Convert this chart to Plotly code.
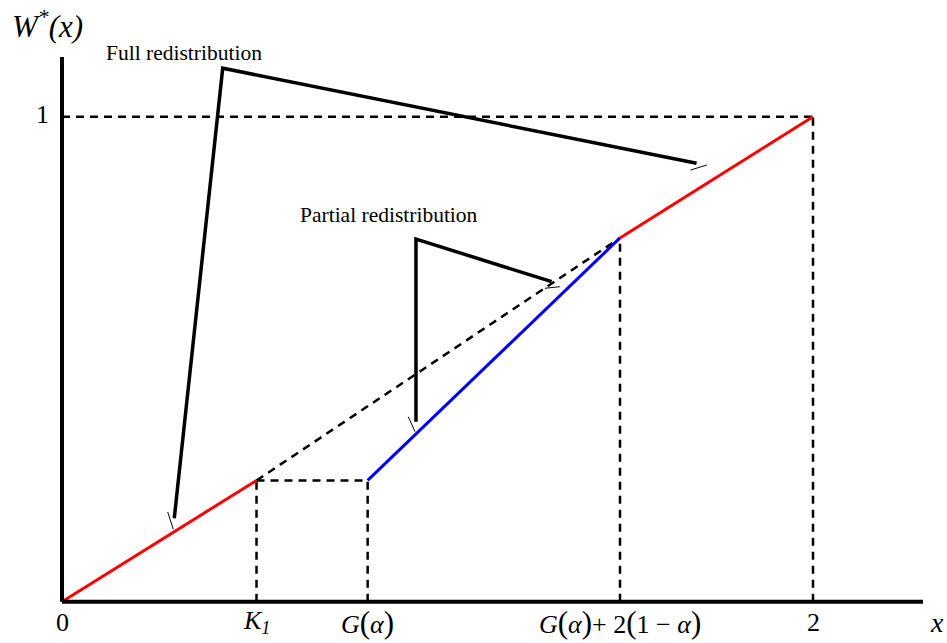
import plotly.graph_objects as go

# ---- data (in chart units) ----
K1 = 0.518
G_alpha = 0.814
G_plus = 1.486          # G(alpha) + 2(1 - alpha)
X_MAX = 2.0
W_K1 = 0.25
W_Gp = 0.75
W_MAX = 1.0

red_low_x = [0.0, K1]
red_low_y = [0.0, W_K1]
blue_x = [G_alpha, G_plus]
blue_y = [W_K1, W_Gp]
red_high_x = [G_plus, X_MAX]
red_high_y = [W_Gp, W_MAX]
dash_diag_x = [K1, G_plus]
dash_diag_y = [W_K1, W_Gp]

# callout polylines (chart units)
full_x = [0.299, 0.428, 1.690]
full_y = [0.172, 1.100, 0.904]
full_tick1_x = [0.2815, 0.2964]
full_tick1_y = [0.185, 0.1493]
full_tick2_x = [1.674, 1.717]
full_tick2_y = [0.890, 0.9004]
part_x = [0.9427, 0.9427, 1.304]
part_y = [0.3711, 0.7478, 0.6598]
part_tick1_x = [0.9222, 0.9401]
part_tick1_y = [0.3814, 0.3505]
part_tick2_x = [1.286, 1.326]
part_tick2_y = [0.6462, 0.6495]

LP = '<span style="font-size:31px">(</span>'
RP = '<span style="font-size:31px">)</span>'
x_ticks = [0.0, K1, G_alpha, G_plus, X_MAX]
x_tick_labels = ["0", "<i>K<sub>1</sub></i>",
                 "<i>G</i>" + LP + "<i>α</i>" + RP,
                 "<i>G</i>" + LP + "<i>α</i>" + RP + "+ 2" + LP + "1 − <i>α</i>" + RP,
                 "2"]

AXIS_X_END = 2.293
AXIS_Y_END = 1.123

fig = go.Figure()

def line(x, y, color="black", width=3, dash="solid"):
    fig.add_trace(go.Scatter(x=x, y=y, mode="lines", showlegend=False,
                             hoverinfo="skip",
                             line=dict(color=color, width=width, dash=dash)))

DASH = "8px,6px"
# dashed guides
line([0, X_MAX], [W_MAX, W_MAX], width=2.5, dash=DASH)
line([X_MAX, X_MAX], [0, W_MAX], width=2.5, dash=DASH)
line([G_plus, G_plus], [0, W_Gp], width=2.5, dash=DASH)
line([G_alpha, G_alpha], [0, W_K1], width=2.5, dash=DASH)
line([K1, K1], [0, W_K1], width=2.5, dash=DASH)
line([K1, G_alpha], [W_K1, W_K1], width=2.5, dash=DASH)
line(dash_diag_x, dash_diag_y, width=2.5, dash=DASH)

# main curves
line(red_low_x, red_low_y, color="#ff0000", width=3)
line(blue_x, blue_y, color="#0000ff", width=3)
line(red_high_x, red_high_y, color="#ff0000", width=3)

# callouts
line(full_x, full_y, width=3.5)
line(full_tick1_x, full_tick1_y, width=1)
line(full_tick2_x, full_tick2_y, width=1)
line(part_x, part_y, width=3.5)
line(part_tick1_x, part_tick1_y, width=1)
line(part_tick2_x, part_tick2_y, width=1)

# axes
line([0, AXIS_X_END], [0, 0], width=4)
line([0, 0], [0, AXIS_Y_END], width=4)

FONT = "Liberation Serif, Times New Roman, serif"
ann = []
for xv, lab in zip(x_ticks, x_tick_labels):
    ann.append(dict(x=xv, y=-0.042, text=lab, showarrow=False,
                    font=dict(family=FONT, size=26, color="black"),
                    xanchor="center", yanchor="middle"))
ann.append(dict(x=2.33, y=-0.042, text="<i>x</i>", showarrow=False,
                font=dict(family=FONT, size=28, color="black"),
                xanchor="center", yanchor="middle"))
ann.append(dict(x=-0.053, y=1.005, text="1", showarrow=False,
                font=dict(family=FONT, size=26, color="black"),
                xanchor="center", yanchor="middle"))
ann.append(dict(x=-0.138, y=1.19, text="<i>W<sup>*</sup>(x)</i>", showarrow=False,
                font=dict(family=FONT, size=31, color="black"),
                xanchor="left", yanchor="middle"))
ann.append(dict(x=0.325, y=1.131, text="Full redistribution", showarrow=False,
                font=dict(family=FONT, size=21.5, color="black"),
                xanchor="center", yanchor="middle"))
ann.append(dict(x=0.8695, y=0.798, text="Partial redistribution", showarrow=False,
                font=dict(family=FONT, size=21.5, color="black"),
                xanchor="center", yanchor="middle"))

fig.update_layout(
    width=947, height=643,
    margin=dict(l=0, r=0, t=0, b=0),
    paper_bgcolor="white", plot_bgcolor="white",
    xaxis=dict(range=[-0.16511, 2.35686], visible=False, fixedrange=True),
    yaxis=dict(range=[-0.08515, 1.24062], visible=False, fixedrange=True),
    annotations=ann,
)

fig.write_html("out.html", config={"displayModeBar": False},
               post_script="document.body.style.margin='0';document.body.style.overflow='hidden';")
